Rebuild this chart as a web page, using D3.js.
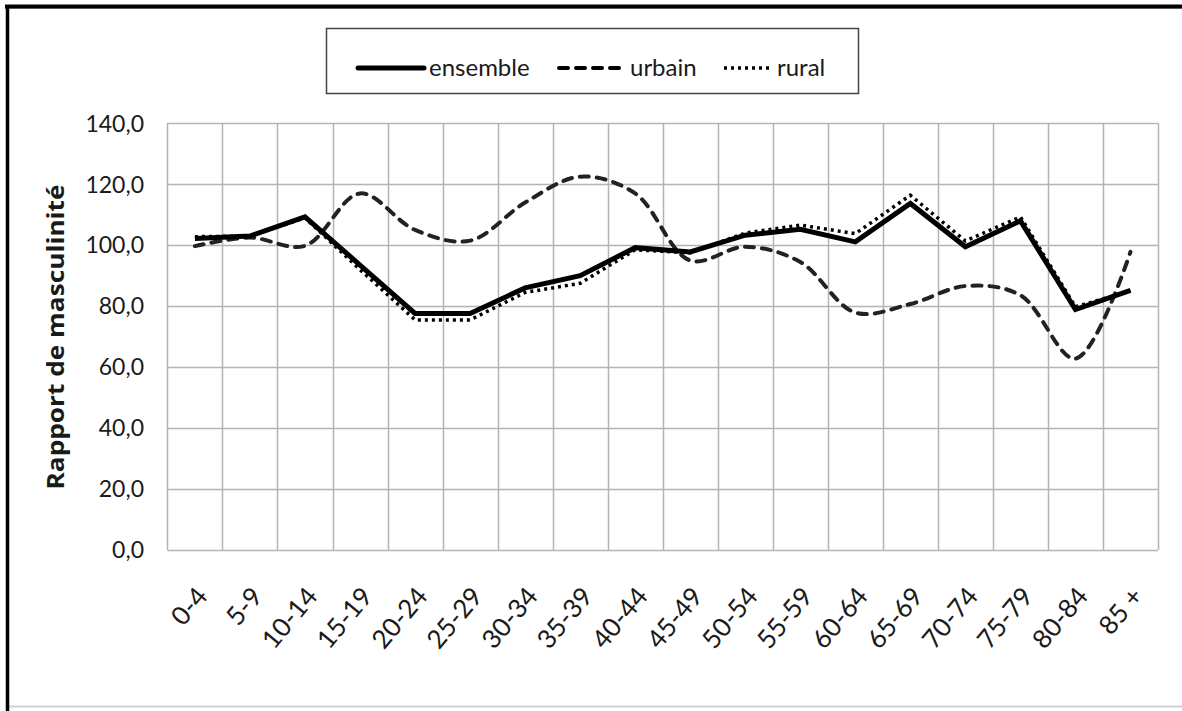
<!DOCTYPE html>
<html>
<head>
<meta charset="utf-8">
<script src="https://cdn.jsdelivr.net/npm/d3@7"></script>
<style>
  html, body { margin: 0; padding: 0; background: #fff; }
  svg { display: block; }
  .lbl { font-family: Lato, "DejaVu Sans Condensed", sans-serif; }
</style>
</head>
<body>
<svg id="chart" width="1182" height="711"></svg>
<script>
const categories = ["0-4","5-9","10-14","15-19","20-24","25-29","30-34","35-39","40-44","45-49","50-54","55-59","60-64","65-69","70-74","75-79","80-84","85 +"];
const ensemble = [102.2,103.0,109.3,93.5,77.6,77.6,86.0,90.0,99.2,97.8,103.3,105.2,101.1,113.7,99.5,108.0,78.9,85.2];
const urbain   = [99.7,102.5,99.8,117.0,105.0,101.5,114.0,122.5,117.0,95.0,99.5,94.5,77.9,80.7,86.6,83.6,62.8,97.8];
const rural    = [102.8,103.0,109.0,92.0,75.5,75.5,84.5,87.5,98.5,97.5,104.0,106.6,103.8,116.4,101.4,109.3,79.8,85.0];
const yTicks = [0,20,40,60,80,100,120,140];
const seriesNames = ["ensemble","urbain","rural"];
const yTitle = "Rapport de masculinité";

const svg = d3.select("#chart");
const W = 1182, H = 711;

// outer frame
svg.append("rect").attr("x",0).attr("y",0).attr("width",W).attr("height",H).attr("fill","#fff");
svg.append("line").attr("x1",9).attr("x2",W).attr("y1",706.5).attr("y2",706.5).attr("stroke","#d0d0d0").attr("stroke-width",2);
svg.append("line").attr("x1",5).attr("x2",W).attr("y1",8.5).attr("y2",8.5).attr("stroke","#b0b0b0").attr("stroke-width",1);
svg.append("line").attr("x1",5).attr("x2",W).attr("y1",6.5).attr("y2",6.5).attr("stroke","#000").attr("stroke-width",4);
svg.append("line").attr("x1",7.5).attr("x2",7.5).attr("y1",5).attr("y2",H).attr("stroke","#000").attr("stroke-width",3.5);

const pL = 167.4, pR = 1158, pT = 123.3, pB = 550;
const x = d3.scaleBand().domain(categories).range([pL, pR]).padding(0);
const y = d3.scaleLinear().domain([0, 140]).range([pB, pT]);
const cx = c => x(c) + x.bandwidth() / 2;

const gridColor = "#b4b4b4";
svg.append("g").selectAll("line").data(yTicks).join("line")
  .attr("x1", pL).attr("x2", pR)
  .attr("y1", d => Math.round(y(d)) + 0.5).attr("y2", d => Math.round(y(d)) + 0.5)
  .attr("stroke", gridColor).attr("stroke-width", 1.5);
const bounds = categories.map(c => x(c)).concat([pR]);
svg.append("g").selectAll("line").data(bounds).join("line")
  .attr("x1", d => Math.round(d) + 0.5).attr("x2", d => Math.round(d) + 0.5)
  .attr("y1", pT).attr("y2", pB)
  .attr("stroke", gridColor).attr("stroke-width", 1.5);

// y tick labels
const fmt = d => d3.format(".1f")(d).replace(".", ",");
svg.append("g").selectAll("text").data(yTicks).join("text")
  .attr("class", "lbl")
  .attr("x", 144).attr("y", d => y(d)).attr("dy", "0.36em")
  .attr("text-anchor", "end")
  .attr("font-size", 23).attr("fill", "#1a1a1a")
  .text(fmt);

// x tick labels
svg.append("g").selectAll("text").data(categories).join("text")
  .attr("class", "lbl")
  .attr("transform", d => `translate(${cx(d) + 7},${591}) rotate(-50)`)
  .attr("text-anchor", "end").attr("dy", "0.35em")
  .attr("font-size", 26).attr("fill", "#1a1a1a")
  .text(d => d);

// y title
svg.append("text")
  .attr("transform", `translate(64,337) rotate(-90)`)
  .attr("text-anchor", "middle")
  .attr("font-family", "'Open Sans', 'Liberation Sans', sans-serif")
  .attr("font-weight", "bold").attr("font-size", 23).attr("fill", "#1a1a1a")
  .attr("textLength", 305).attr("lengthAdjust", "spacingAndGlyphs")
  .text(yTitle);

// lines
const lineStraight = d3.line().x((d, i) => cx(categories[i])).y(d => y(d));
const lineSmooth = d3.line().x((d, i) => cx(categories[i])).y(d => y(d)).curve(d3.curveCatmullRom.alpha(0.5));

const styles = {
  ensemble: { w: 5, dash: null },
  urbain: { w: 4, dash: "9,8" },
  rural: { w: 3.5, dash: "3,4" }
};

svg.append("path").attr("d", lineStraight(rural))
  .attr("fill", "none").attr("stroke", "#000").attr("stroke-width", styles.rural.w)
  .attr("stroke-dasharray", styles.rural.dash);
svg.append("path").attr("d", lineSmooth(urbain))
  .attr("fill", "none").attr("stroke", "#222").attr("stroke-width", styles.urbain.w)
  .attr("stroke-dasharray", styles.urbain.dash).attr("stroke-linecap", "round");
svg.append("path").attr("d", lineStraight(ensemble))
  .attr("fill", "none").attr("stroke", "#000").attr("stroke-width", styles.ensemble.w)
  .attr("stroke-linejoin", "miter");

// legend
const lg = svg.append("g");
lg.append("rect").attr("x", 326.5).attr("y", 28.5).attr("width", 532).attr("height", 65)
  .attr("fill", "#fff").attr("stroke", "#444").attr("stroke-width", 1.5);
const legendItems = [
  { name: seriesNames[0], x1: 358, x2: 424, tx: 429 },
  { name: seriesNames[1], x1: 559, x2: 626, tx: 630 },
  { name: seriesNames[2], x1: 724, x2: 771, tx: 777 }
];
legendItems.forEach(it => {
  const s = styles[it.name];
  lg.append("line").attr("x1", it.x1).attr("x2", it.x2).attr("y1", 68).attr("y2", 68)
    .attr("stroke", "#000").attr("stroke-width", s.w)
    .attr("stroke-dasharray", s.dash)
    .attr("stroke-linecap", it.name === "rural" ? "butt" : "round");
  lg.append("text").attr("class", "lbl")
    .attr("x", it.tx).attr("y", 68).attr("dy", "0.33em")
    .attr("font-size", 24).attr("fill", "#1a1a1a")
    .text(it.name);
});
</script>
</body>
</html>
